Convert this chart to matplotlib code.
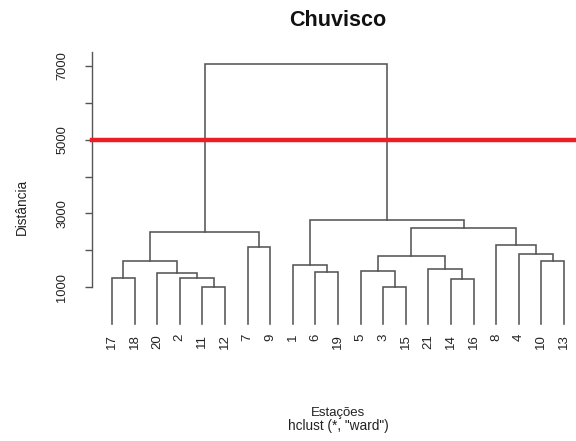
import matplotlib
matplotlib.use('Agg')
import matplotlib.pyplot as plt

plt.rcParams['font.family'] = ['Liberation Sans', 'DejaVu Sans']

# ---- data (R-style hclust merge: negative = leaf label, positive = merge step) ----
leaf_order = [17, 18, 20, 2, 11, 12, 7, 9, 1, 6, 19, 5, 3, 15, 21, 14, 16, 8, 4, 10, 13]
merge_left = [-11, -3, -17, -2, -14, -20, -6, -5, -21, -1, 3, -10, 8, -4, -7, -8, 11, 13, 10, 17]
merge_right = [-12, -15, -18, 1, -16, 4, -19, 2, 5, 7, 6, -13, 9, 12, -9, 14, 15, 16, 18, 19]
merge_height = [1000, 1020, 1240, 1245, 1220, 1400, 1425, 1445, 1490, 1595,
                1710, 1720, 1835, 1910, 2095, 2145, 2505, 2600, 2825, 7060]
cut_height = 5000
y_ticks = [1000, 2000, 3000, 4000, 5000, 6000, 7000]
y_ticklabels = ['1000', '', '3000', '', '5000', '', '7000']

W, H = 576, 441
fig = plt.figure(figsize=(W / 100, H / 100), dpi=100)
ax = fig.add_axes([92 / W, (H - 324.2) / H, (576 - 92) / W, (324.2 - 40) / H])

line_col = '#555555'
pos = {}


def node(k):
    if k < 0:
        return leaf_order.index(-k) + 1, 0.0
    return pos[k]


for i, (l, r, h) in enumerate(zip(merge_left, merge_right, merge_height), start=1):
    xl, yl = node(l)
    xr, yr = node(r)
    ax.plot([xl, xl, xr, xr], [yl, h, h, yr], color=line_col, lw=1.15,
            solid_joinstyle='miter', clip_on=False)
    pos[i] = ((xl + xr) / 2, h)

ax.axhline(cut_height, color='#ee1c25', lw=3.2, zorder=5, clip_on=False)

ax.set_xlim(0.115, 21.53)
ax.set_ylim(0, 7697)

for s in ['top', 'right', 'bottom']:
    ax.spines[s].set_visible(False)
ax.spines['left'].set_bounds(1000, 7380)
ax.spines['left'].set_color(line_col)
ax.spines['left'].set_linewidth(1.0)

ax.set_yticks(y_ticks)
ax.set_yticklabels(y_ticklabels, rotation=90, va='center', fontsize=9.3, color='#222222')
ax.tick_params(axis='y', length=5, width=1.0, color=line_col, pad=12)

ax.set_xticks(range(1, len(leaf_order) + 1))
ax.set_xticklabels([str(v) for v in leaf_order], rotation=90, fontsize=9.5, color='#222222')
ax.tick_params(axis='x', length=0, pad=7)

fig.text(337.5 / W, 1 - 20 / H, 'Chuvisco', ha='center', va='center',
         fontsize=15.5, fontweight='bold', color='#111111')
fig.text(22 / W, 1 - 207 / H, 'Distância', ha='center', va='center',
         rotation=90, fontsize=9.8, color='#222222')
fig.text(338 / W, 1 - 413 / H, 'Estações', ha='center', va='center',
         fontsize=9.5, color='#222222')
fig.text(338 / W, 1 - 426 / H, 'hclust (*, "ward")', ha='center', va='center',
         fontsize=9.8, color='#222222')

fig.savefig('out.png', dpi=100)
